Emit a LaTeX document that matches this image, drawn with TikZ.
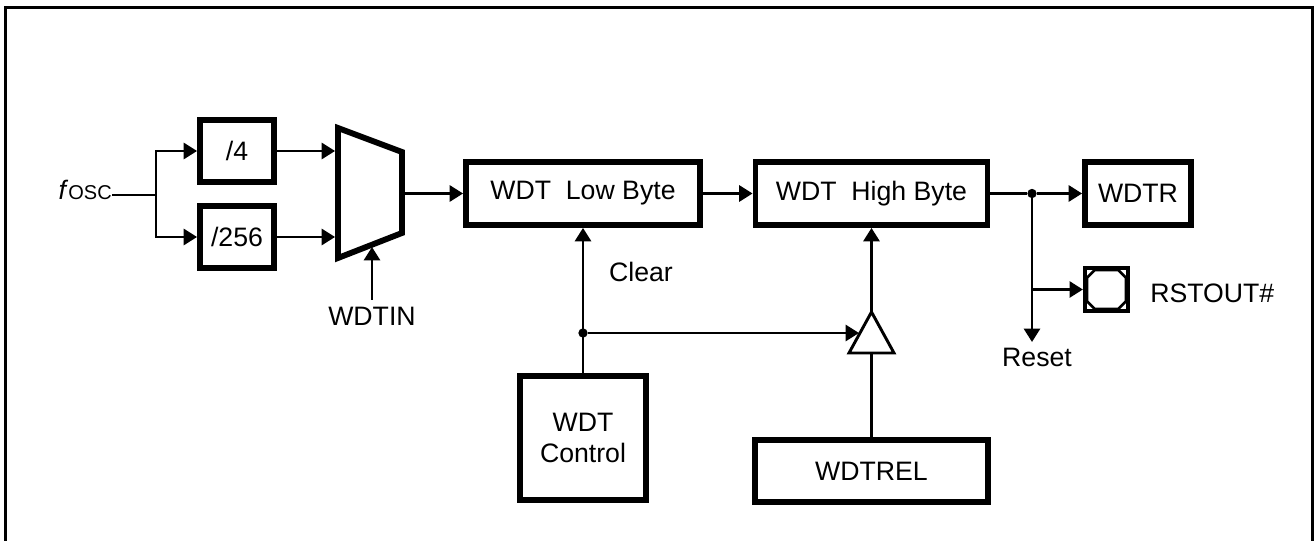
\documentclass[tikz,border=0pt]{standalone}
\usepackage{fontspec}
\setmainfont{Liberation Sans}
\usetikzlibrary{arrows.meta}
\begin{document}
\begin{tikzpicture}[x=0.75pt,y=-0.75pt,
  font=\fontsize{20}{23.25}\selectfont,
  box/.style={draw,line width=4.4pt,inner sep=0pt,align=center},
  wire/.style={line width=2pt},
  arr/.style={wire,-{Triangle[length=10pt,width=12pt]}},
  dot/.style={circle,fill,inner sep=0pt,minimum size=7pt},
  lbl/.style={inner sep=0pt}]
\useasboundingbox (0,0) rectangle (1314,541);
\draw[line width=2.25pt] (5.5,541) -- (5.5,8) -- (1312,8) -- (1312,541);

% input and dividers
\node[lbl,anchor=base east] (fosc) at (112,200) {\textit{f}{\fontsize{15}{18}\selectfont OSC}};
\coordinate (br) at (156,195);
\node[box,minimum width=55.5pt,minimum height=46.5pt] (d4) at (237,151) {/4};
\node[box,minimum width=55.5pt,minimum height=46.5pt] (d256) at (237,237) {/256};
\draw[wire] (fosc.east |- br) -- (br);
\draw[arr] (br) |- (d4.west);
\draw[arr] (br) |- (d256.west);

% multiplexer
\coordinate (m1) at (338,128);
\coordinate (m2) at (402,152);
\coordinate (m3) at (402,233);
\coordinate (m4) at (338,258);
\draw[line width=4.4pt,line join=miter] (m1) -- (m2) -- (m3) -- (m4) -- cycle;
\draw[arr,shorten >=2.2pt] (d4.east) -- (d4.east -| m1);
\draw[arr,shorten >=2.2pt] (d256.east) -- (d256.east -| m1);
\node[lbl] (wdtin) at (372,316) {WDTIN};
\coordinate (mb) at (372,247);
\draw[arr] ([yshift=5pt]wdtin.north) -- (mb);
\coordinate (mo) at (402,193.5);

% counters
\node[box,minimum width=175.5pt,minimum height=47.25pt] (low) at (583,193.5) {WDT\ \ Low Byte};
\node[box,minimum width=174pt,minimum height=47.25pt] (high) at (871.5,193.5) {WDT\ \ High Byte};
\node[box,minimum width=79.5pt,minimum height=47.25pt] (wdtr) at (1138,193.5) {WDTR};
\draw[arr] (mo) -- (low.west);
\draw[arr] (low.east) -- (high.west);

% control
\node[box,minimum width=94.5pt,minimum height=93pt] (ctrl) at (583,438) {WDT\\Control};
\node[dot] (dc) at (583,333) {};
\draw[arr] (ctrl.north) -- (low.south);
\node[lbl] at (641,272) {Clear};

% reload
\node[box,minimum width=174.75pt,minimum height=46.5pt] (rel) at (871.5,471) {WDTREL};
\coordinate (ta) at (871.5,312);
\coordinate (tl) at (849,353);
\coordinate (tr) at (894,353);
\coordinate (tb) at (871.5,353);
\coordinate (tin) at (859,333);
\draw[line width=2.2pt,line join=miter] (ta) -- (tl) -- (tr) -- cycle;
\draw[arr] (dc) -- (tin);
\draw[wire] (rel.north) -- (tb);
\draw[arr] (ta) -- (high.south);

% outputs
\node[dot] (dr) at (1032,193.5) {};
\draw[wire] (high.east) -- (dr);
\draw[arr] (dr) -- (wdtr.west);
\coordinate (rs) at (1032,342);
\draw[arr] (dr) -- (rs);
\node[lbl] at (1037,357) {Reset};
\node[draw,line width=3.4pt,minimum size=32pt,inner sep=0pt] (rst) at (1106.5,289.5) {};
\draw[wire,line join=miter]
  ([shift={(-11.75,-19.5)}]rst.center) -- ([shift={(11.75,-19.5)}]rst.center)
  -- ([shift={(19.5,-11.75)}]rst.center) -- ([shift={(19.5,11.75)}]rst.center)
  -- ([shift={(11.75,19.5)}]rst.center) -- ([shift={(-11.75,19.5)}]rst.center)
  -- ([shift={(-19.5,11.75)}]rst.center) -- ([shift={(-19.5,-11.75)}]rst.center) -- cycle;
\coordinate (rb) at (1032,289.5);
\draw[arr] (rb) -- (rst.west);
\node[lbl,anchor=west] at (1150,293) {RSTOUT\#};
\end{tikzpicture}
\end{document}
